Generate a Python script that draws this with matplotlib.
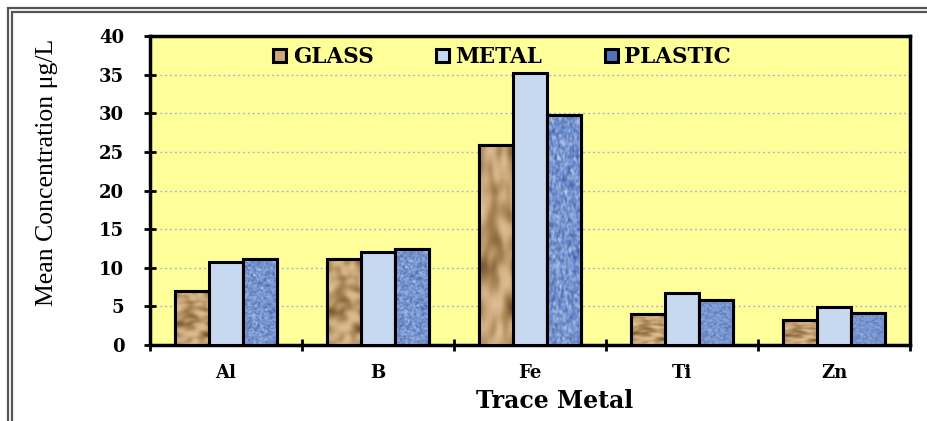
import numpy as np
import matplotlib
matplotlib.use("Agg")
import matplotlib.pyplot as plt
from matplotlib.patches import Rectangle
from matplotlib.colors import LinearSegmentedColormap

# data
metals = ["Al", "B", "Fe", "Ti", "Zn"]
series = ["GLASS", "METAL", "PLASTIC"]
glass = [7.0, 11.1, 25.9, 4.0, 3.2]
metal = [10.7, 12.0, 35.2, 6.7, 4.9]
plastic = [11.1, 12.4, 29.8, 5.8, 4.1]

plt.rcParams['font.family'] = ['DejaVu Serif', 'Liberation Serif']


def smooth_noise(shape, passes, seed):
    # fixed-seed texture used only for the bar fill look
    rng = np.random.default_rng(seed)
    z = rng.random(shape)
    for _ in range(passes):
        z = (z + np.roll(z, 1, 0) + np.roll(z, -1, 0)
             + np.roll(z, 1, 1) + np.roll(z, -1, 1)) / 5
    z = (z - z.min()) / (z.max() - z.min())
    return z


sand_cmap = LinearSegmentedColormap.from_list(
    "sand", ["#6e4f2e", "#a5804f", "#cfae82", "#e3c79c"])
cloth_cmap = LinearSegmentedColormap.from_list(
    "cloth", ["#2f4f96", "#5a7cc0", "#9db5e2", "#dfe8f7"])
sand_tex = smooth_noise((40, 16), 3, 1)
cloth_tex = smooth_noise((160, 50), 1, 2)

fig = plt.figure(figsize=(9.28, 4.21), dpi=100)
ax = fig.add_axes([150 / 928, 1 - 345 / 421, 760 / 928, 309 / 421])
ax.set_facecolor("#ffff99")

x = np.arange(len(metals))
w = 0.224
colors = ["#c9a57a", "#c6d9f0", "#4f72b8"]
vals = [glass, metal, plastic]
for i, (name, v, c) in enumerate(zip(series, vals, colors)):
    bars = ax.bar(x + (i - 1) * w, v, w, color=c, edgecolor="black",
                  linewidth=2.2, label=name, zorder=3)
    if i == 1:
        continue
    tex = sand_tex if i == 0 else cloth_tex
    cmap = sand_cmap if i == 0 else cloth_cmap
    for b in bars:
        x0, y0 = b.get_x(), b.get_y()
        im = ax.imshow(tex, cmap=cmap, aspect="auto", origin="lower",
                       extent=(x0, x0 + b.get_width(), y0, y0 + b.get_height()),
                       zorder=3.5, interpolation="bicubic")
        im.set_clip_path(b)
        # redraw outline above texture
        ax.add_patch(Rectangle((x0, y0), b.get_width(), b.get_height(),
                               fill=False, edgecolor="black", linewidth=2.2,
                               zorder=4))

ax.set_xlim(-0.5, len(metals) - 0.5)
ax.set_ylim(0, 40)
ax.set_yticks(np.arange(0, 41, 5))
ax.yaxis.grid(True, color="#a8b8d8", linestyle=(0, (1.5, 2)), linewidth=1.0)
ax.set_axisbelow(True)

ax.set_xticks(x)
ax.set_xticklabels(metals, fontsize=13, fontweight="bold")
ax.set_xticks(np.arange(-0.5, len(metals)), minor=True)
ax.tick_params(axis="x", which="major", length=0, pad=14)
ax.tick_params(axis="x", which="minor", direction="inout", length=9, width=2)
ax.tick_params(axis="y", direction="inout", length=9, width=2, pad=14,
               labelsize=13)
for lab in ax.get_yticklabels():
    lab.set_fontweight("bold")

for s in ax.spines.values():
    s.set_linewidth(2.5)
    s.set_color("black")

ax.set_xlabel("Trace Metal", fontsize=17, fontweight="bold")
ax.xaxis.set_label_coords(0.533, -0.143)
ax.set_ylabel("Mean Concentration \u03bcg/L", fontsize=18.5,
              family=["Liberation Serif", "DejaVu Serif"])
ax.yaxis.set_label_coords(-0.121, 0.56)

leg = ax.legend(loc="upper left", ncol=3, frameon=False,
                bbox_to_anchor=(0.137, 1.03), handlelength=0.6,
                handleheight=0.6, handletextpad=0.3, columnspacing=2.9,
                prop={"size": 15.5, "weight": "bold"})

# double gray outer frame
for off, lw in [(8, 1.6), (12, 1.6)]:
    fig.patches.append(Rectangle((off / 928, -0.2), 1.5, 1.2 - off / 421,
                                 transform=fig.transFigure, fill=False,
                                 edgecolor="#555555", linewidth=lw))

fig.savefig("out.png", dpi=100)
